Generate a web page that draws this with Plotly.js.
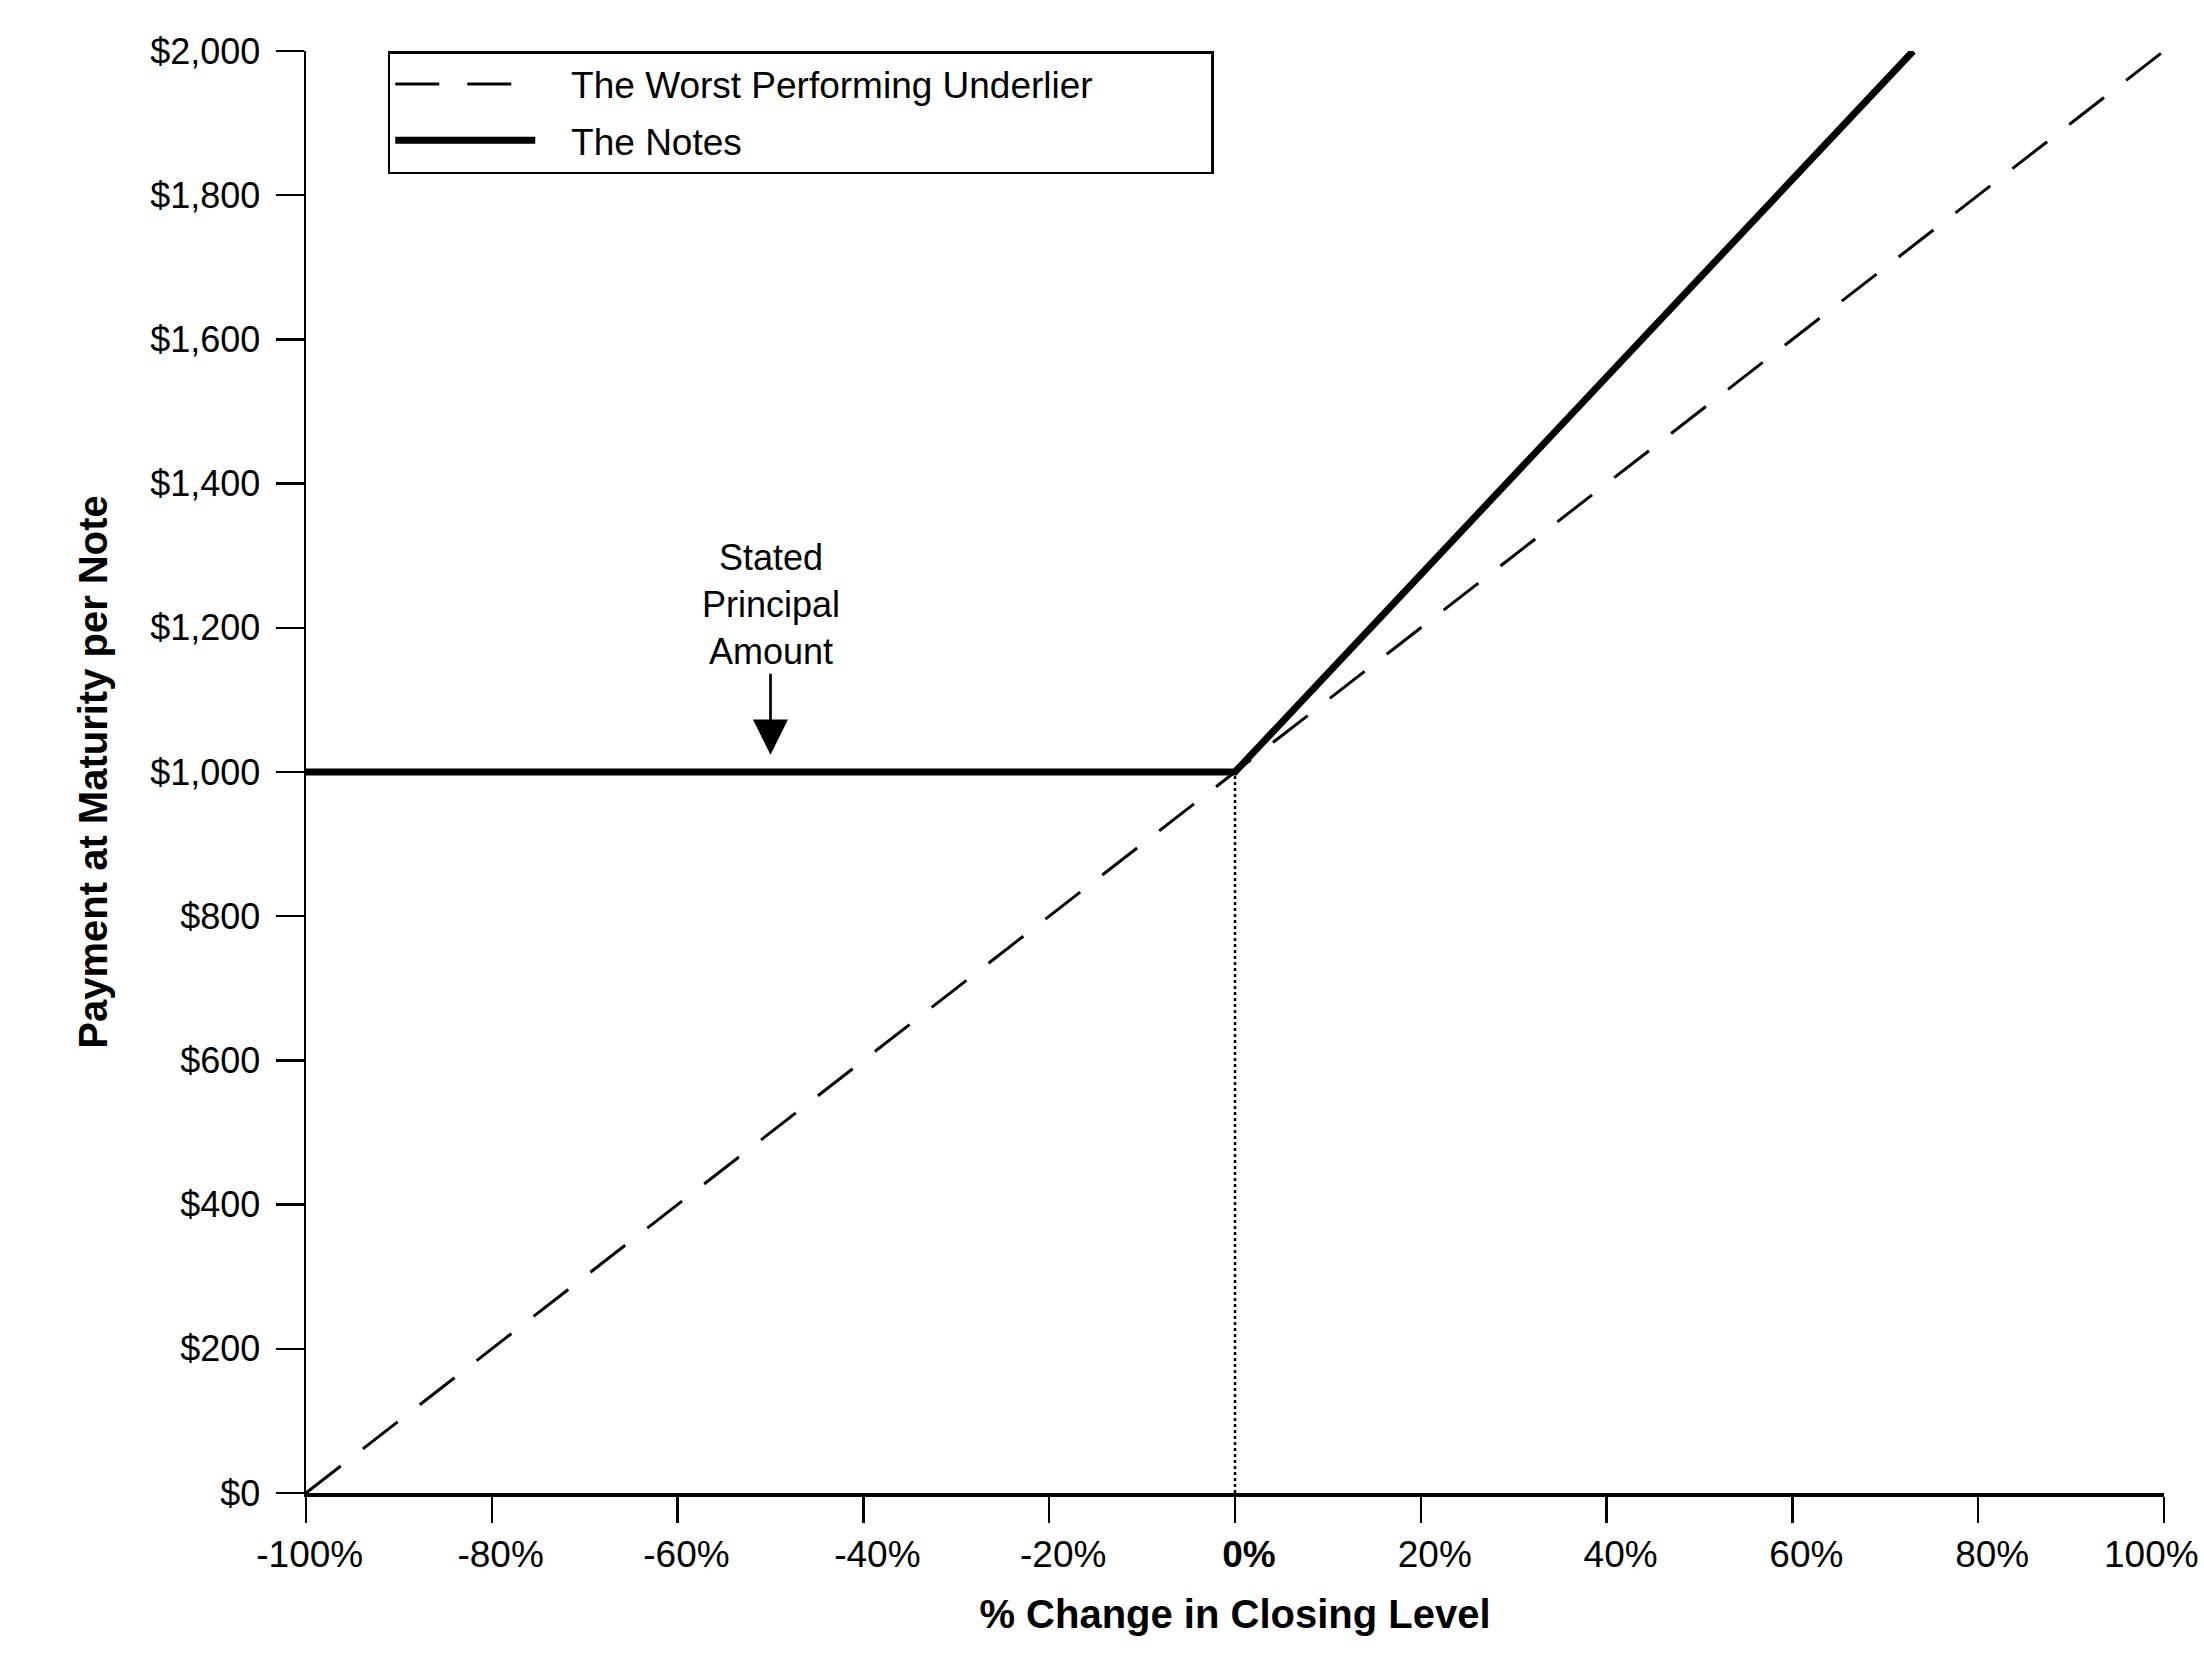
<!DOCTYPE html>
<html>
<head>
<meta charset="utf-8">
<script src="https://cdn.plot.ly/plotly-3.0.1.min.js"></script>
<style>
  html, body { margin: 0; padding: 0; background: #fff; }
</style>
</head>
<body>
<div id="chart" style="width:2204px;height:1667px;"></div>
<script>
// % change in the closing level of the worst performing underlier
var underlierX = [-100, 0, 100];
var underlierY = [0, 1000, 2000];

// payment on the notes: principal floor, then leveraged upside
var notesX = [-100, 0, 73];
var notesY = [1000, 1000, 2000];

// dotted guide at 0%
var guideX = [0, 0];
var guideY = [0, 1000];

var NB = '\u00a0';
var xTickVals = [-100, -80, -60, -40, -20, 0, 20, 40, 60, 80, 100];
// last label is drawn as an annotation so it stays inside the page edge
var xTickText = ['-100%' + NB + NB, '-80%' + NB, '-60%' + NB, '-40%', '-20%', '<b>0%</b>',
                 '20%', '40%', '60%', '80%', ''];
var xEndLabel = '100%';
var yTickVals = [0, 200, 400, 600, 800, 1000, 1200, 1400, 1600, 1800, 2000];
var yTickText = ['$0', '$200', '$400', '$600', '$800', '$1,000', '$1,200', '$1,400', '$1,600', '$1,800', '$2,000'];

var FONT = '"Liberation Sans", Arial, Helvetica, sans-serif';

var underlier = {
  x: underlierX,
  y: underlierY,
  name: NB + NB + NB + 'The Worst Performing Underlier' + NB.repeat(11),
  type: 'scatter',
  mode: 'lines',
  legendgroup: 'a',
  cliponaxis: false,
  line: { color: '#000', width: 3, dash: '44px,28px' }
};

var notes = {
  x: notesX,
  y: notesY,
  name: NB + NB + NB + 'The Notes',
  type: 'scatter',
  mode: 'lines',
  legendgroup: 'b',
  cliponaxis: false,
  line: { color: '#000', width: 7 }
};

var guide = {
  x: guideX,
  y: guideY,
  type: 'scatter',
  mode: 'lines',
  showlegend: false,
  cliponaxis: false,
  line: { color: '#000', width: 2.5, dash: '3px,3px' }
};

var layout = {
  width: 2204,
  height: 1667,
  margin: { l: 306, r: 40, t: 51, b: 174 },
  paper_bgcolor: '#fff',
  plot_bgcolor: '#fff',
  font: { family: FONT, color: '#000', size: 36 },
  showlegend: true,
  legend: {
    x: 0.044,
    y: 1,
    xanchor: 'left',
    yanchor: 'top',
    bgcolor: '#fff',
    bordercolor: '#000',
    borderwidth: 2.5,
    font: { family: FONT, size: 37, color: '#000' },
    traceorder: 'grouped',
    tracegroupgap: 5,
    itemwidth: 140
  },
  xaxis: {
    range: [-100, 100],
    tickvals: xTickVals,
    ticktext: xTickText,
    ticks: 'outside',
    ticklen: 26,
    tickwidth: 2.5,
    tickcolor: '#000',
    ticklabelstandoff: 0,
    ticklabelshift: 14,
    tickfont: { family: FONT, size: 37, color: '#000' },
    showline: true,
    linecolor: '#000',
    linewidth: 3.5,
    showgrid: false,
    zeroline: false,
    title: {
      text: '<b>% Change in Closing Level</b>',
      font: { family: FONT, size: 40, color: '#000' },
      standoff: 27
    }
  },
  yaxis: {
    range: [0, 2000],
    tickvals: yTickVals,
    ticktext: yTickText,
    ticks: 'outside',
    ticklen: 28,
    tickwidth: 2.5,
    tickcolor: '#000',
    ticklabelstandoff: 8,
    tickfont: { family: FONT, size: 36, color: '#000' },
    showline: true,
    linecolor: '#000',
    linewidth: 2.5,
    showgrid: false,
    zeroline: false,
    title: {
      text: '<b>Payment at Maturity per Note</b>',
      font: { family: FONT, size: 40, color: '#000' },
      standoff: 30
    }
  },
  annotations: [
    {
      x: -50,
      y: 1024,
      xref: 'x',
      yref: 'y',
      text: 'Stated<br>Principal<br>Amount',
      font: { family: FONT, size: 36, color: '#000' },
      showarrow: true,
      arrowhead: 2,
      arrowsize: 2.6,
      arrowwidth: 2.7,
      arrowcolor: '#000',
      ax: 0,
      ay: -150
    },
    {
      x: xTickVals[xTickVals.length - 1],
      y: 0,
      xref: 'x',
      yref: 'y',
      text: xEndLabel,
      font: { family: FONT, size: 37, color: '#000' },
      showarrow: false,
      xanchor: 'center',
      yanchor: 'middle',
      xshift: -13,
      yshift: -61
    }
  ]
};

Plotly.newPlot('chart', [underlier, notes, guide], layout, { staticPlot: true });
</script>
</body>
</html>
